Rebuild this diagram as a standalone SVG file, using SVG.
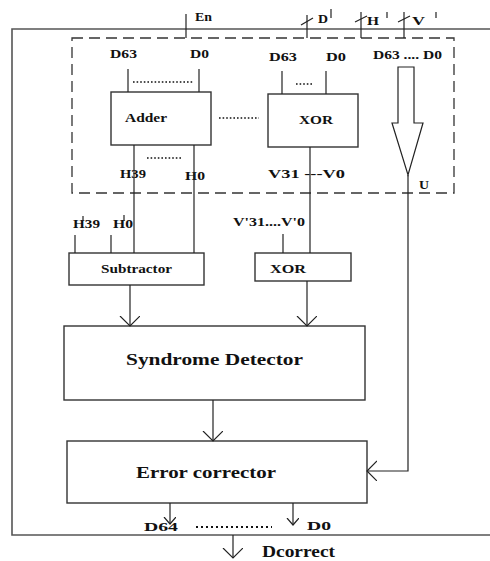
<svg xmlns="http://www.w3.org/2000/svg" width="490" height="561" viewBox="0 0 490 561">
<style>
  .ln{stroke:#222;stroke-width:1.2;fill:none}
  .box{stroke:#333;stroke-width:1.4;fill:#fff}
  .dash{stroke:#333;stroke-width:1.3;fill:none;stroke-dasharray:11 6}
  .dot{stroke:#111;stroke-width:1.6;fill:none;stroke-dasharray:1.6 2}
  .bdot{stroke:#111;stroke-width:2;fill:none;stroke-dasharray:2 3}
  text{font-family:"Liberation Serif","Times New Roman",serif;font-weight:bold;fill:#111}
  .s{font-size:12px}
  .m{font-size:12.5px}
  .l{font-size:16.5px}
</style>
<defs>
  <marker id="ah" markerUnits="userSpaceOnUse" markerWidth="12" markerHeight="22" refX="10" refY="10" orient="auto" viewBox="0 0 12 22">
    <path d="M0,0 L10,10 L0,20" fill="none" stroke="#222" stroke-width="1.2"/>
  </marker>
  <marker id="ahs" markerUnits="userSpaceOnUse" markerWidth="9" markerHeight="14" refX="7" refY="6" orient="auto" viewBox="0 0 9 14">
    <path d="M0,0 L7,6 L0,12" fill="none" stroke="#222" stroke-width="1.2"/>
  </marker>
</defs>

<g id="outer">
  <path d="M490,29 H12 V535 H490" fill="none" stroke="#555" stroke-width="1.6"/>
</g>

<g id="dashed-region">
  <rect x="72" y="38" width="382" height="155" class="dash"/>
</g>

<g id="inputs">
  <line x1="186" y1="14" x2="186" y2="38" class="ln"/>
  <text x="195" y="21" class="s" textLength="17" lengthAdjust="spacingAndGlyphs">En</text>
  <line x1="307" y1="15" x2="307" y2="38" class="ln"/>
  <line x1="301" y1="25" x2="313" y2="18" class="ln"/>
  <text x="318" y="23" class="s" textLength="10" lengthAdjust="spacingAndGlyphs">D</text>
  <line x1="331" y1="9" x2="331" y2="18" class="ln"/>
  <line x1="361" y1="12" x2="361" y2="38" class="ln"/>
  <line x1="355" y1="22" x2="367" y2="16" class="ln"/>
  <text x="367" y="25" class="s" textLength="12" lengthAdjust="spacingAndGlyphs">H</text>
  <line x1="387" y1="12" x2="387" y2="18" class="ln"/>
  <line x1="404" y1="12" x2="404" y2="38" class="ln"/>
  <line x1="398" y1="22" x2="410" y2="16" class="ln"/>
  <text x="412" y="25" class="s" textLength="13" lengthAdjust="spacingAndGlyphs">V</text>
  <line x1="436" y1="12" x2="436" y2="18" class="ln"/>
</g>

<g id="adder">
  <rect x="111" y="92" width="100" height="53" class="box"/>
  <text x="125" y="122" class="m" textLength="42" lengthAdjust="spacingAndGlyphs">Adder</text>
  <text x="110" y="58" class="s" textLength="27" lengthAdjust="spacingAndGlyphs">D63</text>
  <text x="190" y="58" class="s" textLength="19" lengthAdjust="spacingAndGlyphs">D0</text>
  <text x="120" y="178" class="m" textLength="26" lengthAdjust="spacingAndGlyphs">H39</text>
  <text x="185" y="180" class="m" textLength="20" lengthAdjust="spacingAndGlyphs">H0</text>
</g>

<g id="xor1">
  <rect x="268" y="94" width="90" height="53" class="box"/>
  <text x="299" y="124" class="m" textLength="34" lengthAdjust="spacingAndGlyphs">XOR</text>
  <text x="269" y="61" class="s" textLength="28" lengthAdjust="spacingAndGlyphs">D63</text>
  <text x="326" y="61" class="s" textLength="20" lengthAdjust="spacingAndGlyphs">D0</text>
  <text x="268" y="178" class="m" textLength="77" lengthAdjust="spacingAndGlyphs">V31 ---V0</text>
</g>

<g id="bypass">
  <path d="M398,67 H414 V123 H423 L408,175 L392,123 H398 Z" fill="#fff" stroke="#222" stroke-width="1.2"/>
  <text x="373" y="59" class="s" textLength="69" lengthAdjust="spacingAndGlyphs">D63 .... D0</text>
  <text x="419" y="189" class="s" textLength="10" lengthAdjust="spacingAndGlyphs">U</text>
</g>

<g id="subtractor">
  <rect x="69" y="253" width="135" height="32" class="box"/>
  <text x="101" y="273" class="s" textLength="71" lengthAdjust="spacingAndGlyphs">Subtractor</text>
  <text x="73" y="228" class="m" textLength="27" lengthAdjust="spacingAndGlyphs">H39</text>
  <text x="113" y="228" class="m" textLength="20" lengthAdjust="spacingAndGlyphs">H0</text>
  <line x1="83" y1="216" x2="83" y2="221" class="ln"/>
  <line x1="124" y1="215" x2="124" y2="221" class="ln"/>
</g>

<g id="xor2">
  <rect x="255" y="253" width="96" height="28" class="box"/>
  <text x="270" y="273" class="m" textLength="36" lengthAdjust="spacingAndGlyphs">XOR</text>
  <text x="233" y="226" class="m" textLength="72" lengthAdjust="spacingAndGlyphs">V'31....V'0</text>
</g>

<g id="syndrome-detector">
  <rect x="64" y="326" width="301" height="74" class="box"/>
  <text x="126" y="365" class="l" textLength="177" lengthAdjust="spacingAndGlyphs">Syndrome Detector</text>
</g>

<g id="error-corrector">
  <rect x="67" y="441" width="300" height="62" class="box"/>
  <text x="136" y="478" class="l" textLength="140" lengthAdjust="spacingAndGlyphs">Error corrector</text>
</g>

<g id="outputs">
  <text x="144" y="531" class="m" textLength="34" lengthAdjust="spacingAndGlyphs">D64</text>
  <text x="307" y="530" class="m" textLength="24" lengthAdjust="spacingAndGlyphs">D0</text>
  <text x="262" y="557" class="l" textLength="73" lengthAdjust="spacingAndGlyphs">Dcorrect</text>
</g>

<g id="connectors">
  <line x1="128" y1="69" x2="128" y2="92" class="ln"/>
  <line x1="199" y1="69" x2="199" y2="92" class="ln"/>
  <line x1="133" y1="82" x2="193" y2="82" class="dot"/>
  <line x1="282" y1="71" x2="282" y2="94" class="ln"/>
  <line x1="326" y1="71" x2="326" y2="94" class="ln"/>
  <line x1="296" y1="84" x2="314" y2="84" class="dot"/>
  <line x1="219" y1="118" x2="259" y2="118" class="dot"/>
  <line x1="134" y1="145" x2="134" y2="253" class="ln"/>
  <line x1="194" y1="145" x2="194" y2="253" class="ln"/>
  <line x1="147" y1="158" x2="181" y2="158" class="dot"/>
  <line x1="310" y1="147" x2="310" y2="253" class="ln"/>
  <line x1="75" y1="235" x2="75" y2="253" class="ln"/>
  <line x1="111" y1="235" x2="111" y2="253" class="ln"/>
  <line x1="283" y1="234" x2="283" y2="253" class="ln"/>
  <line x1="130" y1="285" x2="130" y2="326" class="ln" marker-end="url(#ah)"/>
  <line x1="307" y1="281" x2="307" y2="326" class="ln" marker-end="url(#ah)"/>
  <line x1="213" y1="400" x2="213" y2="441" class="ln" marker-end="url(#ah)"/>
  <polyline points="408,175 408,471 367,471" class="ln" marker-end="url(#ah)"/>
  <line x1="170" y1="503" x2="170" y2="524" class="ln" marker-end="url(#ahs)"/>
  <line x1="293" y1="503" x2="293" y2="525" class="ln" marker-end="url(#ahs)"/>
  <line x1="196" y1="527" x2="272" y2="527" class="bdot"/>
  <line x1="233" y1="535" x2="233" y2="558" class="ln" marker-end="url(#ah)"/>
</g>
</svg>
